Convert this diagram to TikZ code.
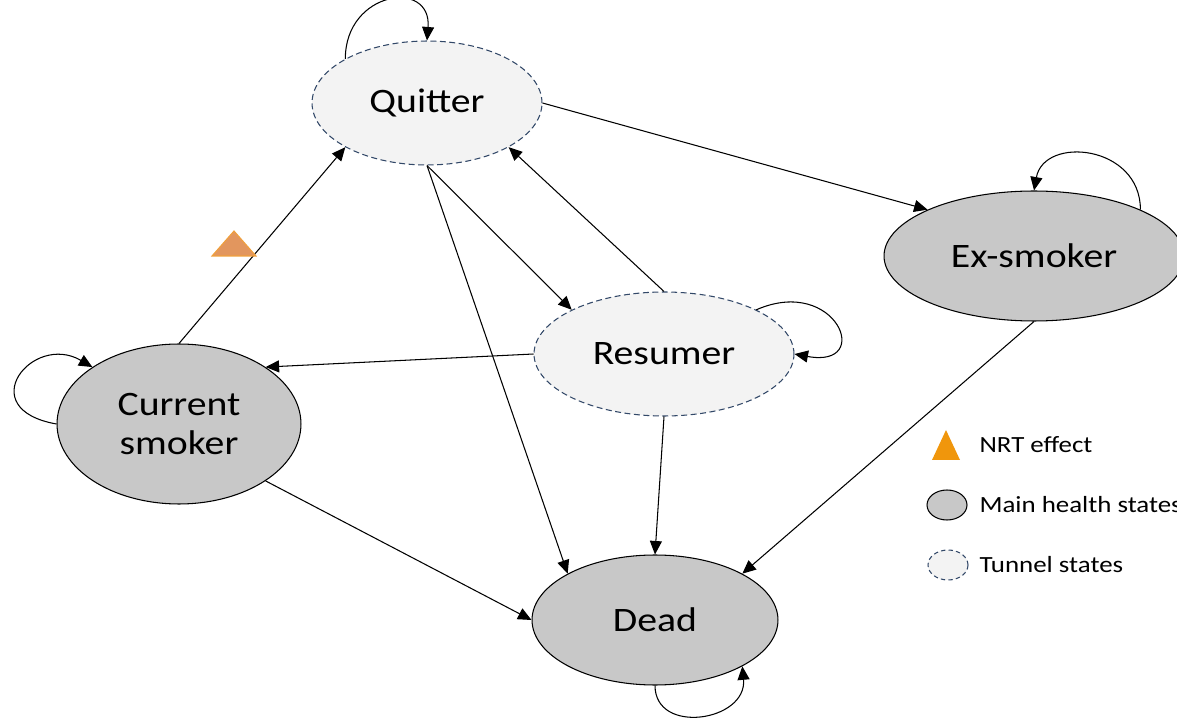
\documentclass[tikz,border=0pt]{standalone}
\usepackage{fontspec}
\setmainfont{Carlito}[FakeStretch=1.16]
\usetikzlibrary{shapes.geometric,arrows.meta}
\definecolor{mainfill}{RGB}{200,200,200}
\definecolor{tunnelfill}{RGB}{243,243,243}
\definecolor{tunnelline}{RGB}{50,72,104}
\definecolor{nrtfill}{RGB}{226,150,94}
\definecolor{nrtline}{RGB}{240,160,60}
\definecolor{nrtlegend}{RGB}{240,150,12}

\begin{document}
\begin{tikzpicture}[x=0.02cm,y=-0.02cm,>={Triangle[length=0.27cm,width=0.24cm]},line width=0.6pt]
\tikzstyle{every node}+=[inner sep=0pt]
\tikzstyle{mainstate}=[ellipse,draw=black,fill=mainfill,font=\fontsize{19.5}{22.7}\selectfont,align=center]
\tikzstyle{tunnelstate}=[ellipse,draw=tunnelline,dash pattern=on 3.4pt off 2pt,fill=tunnelfill,font=\fontsize{19.5}{22.7}\selectfont]
\tikzstyle{legendtext}=[anchor=west,font=\fontsize{13.2}{15}\selectfont]
\useasboundingbox (0,0) rectangle (1177,719);
% states
\node [tunnelstate,minimum width=4.6cm,minimum height=2.48cm] (quit) at (427,103) {Quitter};
\node [tunnelstate,minimum width=5.2cm,minimum height=2.48cm] (res) at (664,354) {Resumer};
\node [mainstate,minimum width=6cm,minimum height=2.6cm] (ex) at (1034,256) {Ex-smoker};
\node [mainstate,minimum width=4.88cm,minimum height=3.2cm] (cs) at (179,424) {Current\\smoker};
\node [mainstate,minimum width=4.92cm,minimum height=2.6cm] (dead) at (655,620) {Dead};
% transitions
\draw [->] (cs.north) -- (quit.south west);
\draw [->] (quit.south) -- (res.north west);
\draw [->] (res.north) -- (quit.south east);
\draw [->] (quit.south) -- (dead.north west);
\draw [->] (quit.east) -- (ex.north west);
\draw [->] (res.west) -- (cs.north east);
\draw [->] (res.south) -- (dead.north);
\draw [->] (cs.south east) -- (dead.west);
\draw [->] (ex.south) -- (dead.north east);
% loops
\draw [->] (quit.north west) .. controls +(0,-68) and +(5,-62) .. (quit.north);
\draw [->] (ex.north east) .. controls +(0,-65) and +(10,-55) .. (ex.north);
\draw [->] (res.north east) .. controls +(80,-35) and +(80,15) .. (res.east);
\draw [->] (cs.west) .. controls +(-85,-15) and +(-60,-35) .. (cs.north west);
\draw [->] (dead.south) .. controls +(0,50) and +(5,55) .. (dead.south east);
% NRT effect
\filldraw [fill=nrtfill,draw=nrtline] (212,256) -- (256,256) -- (234,231) -- cycle;
% legend
\fill [nrtlegend] (932,460) -- (960,460) -- (946,430) -- cycle;
\node [legendtext] (nrt) at (979,445) {NRT effect};
\node [ellipse,draw=black,fill=mainfill,minimum width=0.8cm,minimum height=0.6cm] (keymain) at (947,505) {};
\node [legendtext] (main) at (979,505) {Main health states};
\node [ellipse,draw=tunnelline,dash pattern=on 2.5pt off 1.8pt,fill=tunnelfill,minimum width=0.8cm,minimum height=0.6cm] (keytunnel) at (948,565) {};
\node [legendtext] (tunnel) at (979,565) {Tunnel states};
\end{tikzpicture}
\end{document}
